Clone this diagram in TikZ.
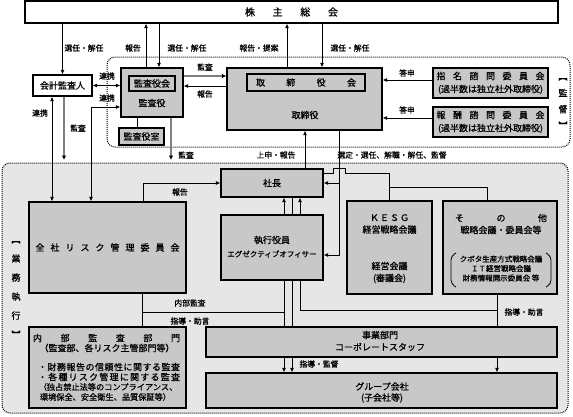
\documentclass[tikz,border=0pt]{standalone}
\usepackage{fontspec}
\setmainfont{Noto Sans CJK JP}[FakeBold=0.8]
\usetikzlibrary{arrows.meta,backgrounds}

\definecolor{boxgray}{HTML}{C8C8C8}
\definecolor{areagray}{HTML}{E6E6E6}
\definecolor{auditgray}{HTML}{808080}

\makeatletter
\newcommand\spreadtext[2]{\makebox[#1][s]{\@tfor\sp@ch:=#2\do{\sp@ch\hfil}\unskip}}
\makeatother

\tikzset{
  >={Latex[length=4.5pt,width=4pt]},
  box/.style={draw, line width=1.2pt, fill=boxgray, inner sep=0pt, align=center, font=\fontsize{9}{12}\selectfont},
  thickbox/.style={box, line width=1.9pt},
  lbl/.style={inner sep=0pt, font=\fontsize{7.8}{9}\selectfont},
  boxtext/.style={inner sep=0pt, align=center, font=\fontsize{9}{12}\selectfont},
  conn/.style={line width=0.8pt},
  audit/.style={draw=auditgray, line width=2.2pt, -{Latex[length=4.5pt,width=4.5pt,color=black]}},
  area/.style={densely dotted, line width=1pt, rounded corners=8pt}
}

\begin{document}
\begin{tikzpicture}[x=1pt, y=-1pt]
\useasboundingbox (0,0) rectangle (573,416);

% Marking the boxes of the supervising side
\node[box, fill=white, minimum width=533pt, minimum height=22pt, font=\fontsize{10}{12}\selectfont] (kabunushi) at (291.5,12) {\spreadtext{93pt}{株主総会}};
\node[box, fill=white, minimum width=59pt, minimum height=21pt] (kaikei) at (62.5,85.5) {会計監査人};
\node[box, minimum width=62pt, minimum height=49pt] (kansayaku) at (152,92.5) {};
\node[thickbox, minimum width=46pt, minimum height=15pt] (kansayakukai) at (152,83.5) {監査役会};
\node[boxtext] (kansayakulbl) at (152,103) {監査役};
\node[thickbox, minimum width=45pt, minimum height=17pt] (kansashitsu) at (141.5,136.5) {監査役室};
\node[box, minimum width=155pt, minimum height=62pt] (torishimari) at (304.5,99) {};
\node[thickbox, minimum width=118pt, minimum height=17pt] (torikai) at (306,82.5) {\spreadtext{100pt}{取締役会}};
\node[boxtext] (torilbl) at (305,115) {取締役};
\node[thickbox, minimum width=115pt, minimum height=30pt, font=\fontsize{9}{13}\selectfont] (shimei) at (490.5,83) {\spreadtext{108pt}{指名諮問委員会}\\(過半数は独立社外取締役)};
\node[thickbox, minimum width=115pt, minimum height=30pt, font=\fontsize{9}{13}\selectfont] (hoshu) at (490.5,122) {\spreadtext{108pt}{報酬諮問委員会}\\(過半数は独立社外取締役)};

% Marking the boxes of the executing side
\node[box, minimum width=102pt, minimum height=28pt] (shacho) at (272,183) {社長};
\node[box, minimum width=157pt, minimum height=91pt] (zensha) at (107.5,247.5) {\spreadtext{144pt}{全社リスク管理委員会}};
\node[box, minimum width=102pt, minimum height=65pt] (shikko) at (272,247.5) {};
\node[boxtext] (shikkolbl) at (272,240) {執行役員};
\node[boxtext, font=\fontsize{7.5}{9}\selectfont] (shikkoeng) at (272,254) {エグゼクティブオフィサー};
\node[box, minimum width=85pt, minimum height=93pt] (kesg) at (389.5,247.5) {};
\node[boxtext] (kesgtitle) at (389.5,224) {\spreadtext{39pt}{ＫＥＳＧ}\\経営戦略会議};
\node[boxtext] (kesgsub) at (389.5,272.5) {経営会議\\(審議会)};
\node[box, minimum width=114pt, minimum height=93pt] (sonota) at (500,247.5) {};
\node[boxtext] (sonotatitle) at (501,224) {\spreadtext{92pt}{その他}\\戦略会議・委員会等};
\node[boxtext, font=\fontsize{7.5}{9.5}\selectfont] (sonotalist) at (501,268.5) {クボタ生産方式戦略会議\\ＩＴ経営戦略会議\\財務情報開示委員会 等};
\draw[conn, rounded corners=4pt] (456,253) -- (451,256) -- (451,284) -- (456,287);
\draw[conn, rounded corners=4pt] (546,253) -- (551,256) -- (551,284) -- (546,287);
\node[box, minimum width=157pt, minimum height=81pt] (naibu) at (107.5,367.5) {};
\node[boxtext] (naibuA) at (106.5,338) {\spreadtext{147pt}{内部監査部門}};
\node[boxtext] (naibuB) at (107,348) {（監査部、各リスク主管部門等）};
\node[boxtext] (naibuC) at (109,367) {\spreadtext{142pt}{・財務報告の信頼性に関する監査}};
\node[boxtext] (naibuD) at (109,377) {\spreadtext{142pt}{・各種リスク管理に関する監査}};
\node[boxtext, font=\fontsize{8.2}{10}\selectfont] (naibuE) at (108,387) {（独占禁止法等のコンプライアンス、};
\node[boxtext, font=\fontsize{8.2}{10}\selectfont] (naibuF) at (105.5,397) {環境保全、安全衛生、品質保証等）};
\node[box, minimum width=351pt, minimum height=30pt] (jigyo) at (381.5,342) {};
\node[boxtext] (jigyolbl) at (380,341) {事業部門\\コーポレートスタッフ};
\node[box, minimum width=351pt, minimum height=35pt] (group) at (381.5,390.5) {};
\node[boxtext, font=\fontsize{9}{11}\selectfont] (grouplbl) at (382,392.5) {グループ会社\\(子会社等)};

% Marking the bracketed side titles
\node[boxtext, font=\fontsize{9}{16.3}\selectfont] (kantoku) at (563,103.5) {︻\\監\\督\\︼};
\node[boxtext, font=\fontsize{9}{19}\selectfont] (gyomu) at (16,289.5) {︻\\業\\務\\執\\行\\︼};

\begin{pgfonlayer}{background}
% Drawing the two dotted areas
\draw[area, fill=areagray] (2,163) rectangle (568,413);
\draw[area] (107,57) rectangle (570,147);

% Drawing lines to and from 株主総会
\draw[conn,->] (kabunushi.south -| kaikei.north) -- (kaikei.north);
\draw[conn,->] (kansayaku.north -| 146,0) -- (kabunushi.south -| 146,0);
\draw[conn,->] (kabunushi.south -| 159,0) -- (kansayaku.north -| 159,0);
\draw[conn,->] (torishimari.north -| 287,0) -- (kabunushi.south -| 287,0);
\draw[conn,->] (kabunushi.south -| 322,0) -- (torishimari.north -| 322,0);

% Drawing lines of the auditors
\draw[audit] (kansayaku.east |- 0,76) -- (torishimari.west |- 0,76);
\draw[conn,->] (torishimari.west |- 0,86) -- (kansayaku.east |- 0,86);
\draw[conn,<->] (kaikei.east) -- (kansayaku.west |- kaikei.east);
\draw[conn,<->] (kansayaku.west |- 0,107) -| (zensha.north -| 91,0);
\draw[conn,<->] (kaikei.south -| 52,0) -- (zensha.north -| 52,0);
\coordinate (kaikeiaudit) at (64,160);
\draw[audit] (kaikei.south -| kaikeiaudit) -- (kaikeiaudit);
\draw[conn] (kansayaku.south -| 137,0) -- (kansashitsu.north -| 137,0);
\coordinate (kansaaudit) at (171,160);
\draw[audit] (kansayaku.south -| kansaaudit) -- (kansaaudit);

% Drawing lines of the advisory committees
\draw[conn,->] (shimei.west |- 0,80) -- (torishimari.east |- 0,80);
\draw[conn,->] (hoshu.west |- 0,118) -- (torishimari.east |- 0,118);

% Drawing lines between 取締役 and 社長
\draw[conn,->] (shacho.north -| 305,0) -- (torishimari.south -| 305,0);
\draw[conn,->] (torishimari.south -| 339,0) |- (shikko.east |- 0,255);
\draw[conn,->] (339,183) -- (shacho.east);

% Drawing lines from 社長 to the councils
\draw[conn] (shacho.east |- 0,173) -- (333,173) -- (333,168) -- (345,168) -- (345,173) -- (kesg.north |- 0,173) -- (kesg.north);
\draw[conn] (kesg.north |- 0,187) -| (sonota.north -| 487,0);
\draw[conn,->] (zensha.north -| 143,0) |- (shacho.west);

% Drawing lines down to グループ会社
\draw[conn,<->] (shacho.south -| 284,0) -- (group.north -| 284,0);
\draw[conn,->] (shacho.south -| 292,0) -- (group.north -| 292,0);
\coordinate (sonotaturn) at (497,310);
\draw[conn,<-] (shacho.south -| 300,0) |- (sonotaturn);
\draw[conn,->] (sonota.south -| sonotaturn) -- (group.north -| sonotaturn);
\draw[conn] (284,312) -| (naibu.north -| 142,0);
\draw[conn] (zensha.south -| 142,0) -- (naibu.north -| 142,0);
\end{pgfonlayer}

% Marking the connector labels
\node[lbl] (senninA) at (84,48) {選任・解任};
\node[lbl] (hokokuA) at (133,48) {報告};
\node[lbl] (senninB) at (187,48) {選任・解任};
\node[lbl] (teian) at (259,48) {報告・提案};
\node[lbl] (senninC) at (350,48) {選任・解任};
\node[lbl] (renkeiA) at (107,76) {連携};
\node[lbl] (renkeiB) at (107,98) {連携};
\node[lbl] (renkeiC) at (40,113) {連携};
\node[lbl] (kansaA) at (78,128) {監査};
\node[lbl] (kansaB) at (205,67) {監査};
\node[lbl] (hokokuB) at (205,94) {報告};
\node[lbl] (toshinA) at (407,73) {答申};
\node[lbl] (toshinB) at (407,110) {答申};
\node[lbl] (kansaC) at (186,155) {監査};
\node[lbl] (joshin) at (276,155) {上申・報告};
\node[lbl] (sentei) at (392,155) {選定・選任、解職・解任、監督};
\node[lbl] (hokokuC) at (180,192) {報告};
\node[lbl] (naibukansa) at (190,303) {内部監査};
\node[lbl] (shidoA) at (190,321) {指導・助言};
\node[lbl] (shidoB) at (319,364) {指導・監督};
\node[lbl] (shidoC) at (524,312) {指導・助言};
\end{tikzpicture}
\end{document}
